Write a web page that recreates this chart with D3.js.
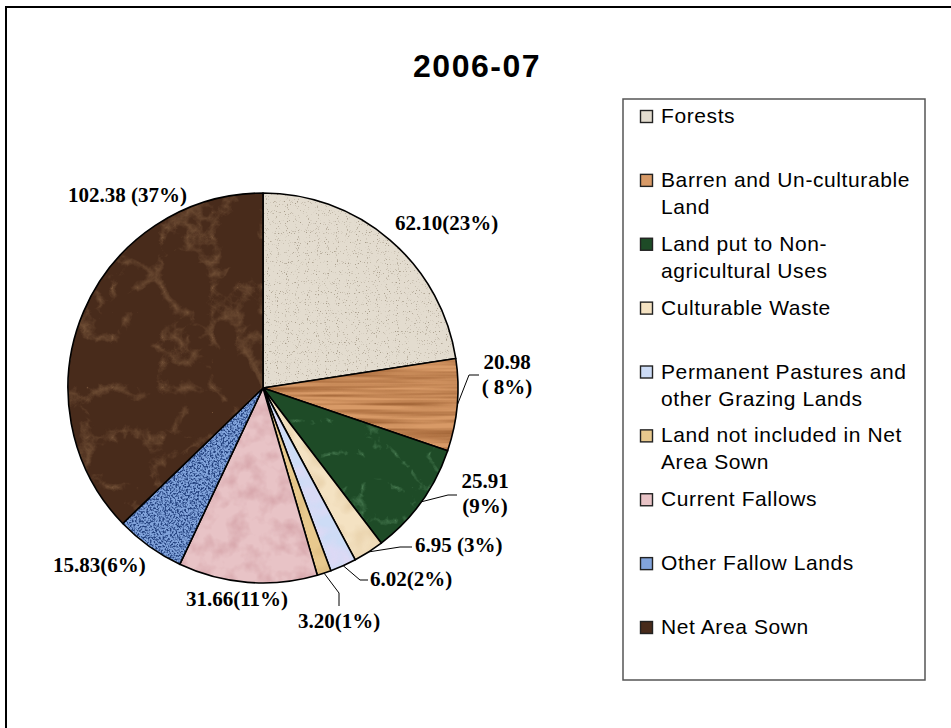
<!DOCTYPE html>
<html>
<head>
<meta charset="utf-8">
<script src="https://cdn.jsdelivr.net/npm/d3@7"></script>
<style>
  body { margin: 0; background: #fff; }
</style>
</head>
<body>
<script>
// data
const categories = ['Forests', 'Barren and Un-culturable Land', 'Land put to Non-agricultural Uses',
  'Culturable Waste', 'Permanent Pastures and other Grazing Lands', 'Land not included in Net Area Sown',
  'Current Fallows', 'Other Fallow Lands', 'Net Area Sown']
const values = [62.10, 20.98, 25.91, 6.95, 6.02, 3.20, 31.66, 15.83, 102.38]
const pctLabels = [23, 8, 9, 3, 2, 1, 11, 6, 37]
const title = '2006-07'

// look of each slice: base colour + a noise overlay
const baseColors = ['#e3dccf', '#d89a67', '#1e4b27', '#f4e2c2', '#cddcf6', '#e8c98e', '#e8c3c6', '#82a4dc', '#482b1b']
const textures = [
  { type: 'fractalNoise', freq: '0.9', oct: 1, color: '#a69b89', a: 7, b: -4.4 },
  { type: 'fractalNoise', freq: '0.008 0.22', oct: 2, color: '#a5683a', a: 2.4, b: -0.8 },
  { type: 'turbulence', freq: '0.03', oct: 4, color: '#5e9468', a: -3, b: 0.6 },
  { type: 'fractalNoise', freq: '0.05', oct: 2, color: '#e2c89e', a: 2, b: -0.8 },
  { type: 'fractalNoise', freq: '0.05', oct: 2, color: '#e4d8f4', a: 2, b: -0.7 },
  { type: 'fractalNoise', freq: '0.05', oct: 2, color: '#d6b47a', a: 2, b: -0.8 },
  { type: 'fractalNoise', freq: '0.06', oct: 3, color: '#d7a7ac', a: 2.2, b: -0.9 },
  { type: 'fractalNoise', freq: '0.55', oct: 2, color: '#24427f', a: 4, b: -1.7 },
  { type: 'turbulence', freq: '0.02', oct: 5, color: '#97714f', a: -2.4, b: 0.55 }
]

// label placement (text anchor point, lines, leader elbows)
const labelPos = [
  { x: 395, y: 230, anchor: 'start', sep: '', pad: '' },
  { x: 507, y: 369, anchor: 'middle', sep: '\n', pad: ' ', leader: [[469, 375], [479, 375]] },
  { x: 485, y: 488, anchor: 'middle', sep: '\n', pad: '', leader: [[448, 495], [457, 495]] },
  { x: 415, y: 552, anchor: 'start', sep: ' ', pad: '', leader: [[400, 547], [412, 547]] },
  { x: 370, y: 586, anchor: 'start', sep: '', pad: '', leader: [[360, 580], [368, 580]] },
  { x: 298, y: 628, anchor: 'start', sep: '', pad: '', leader: [[339, 593], [339, 606]] },
  { x: 186, y: 606, anchor: 'start', sep: '', pad: '' },
  { x: 53, y: 572, anchor: 'start', sep: '', pad: '' },
  { x: 68, y: 202, anchor: 'start', sep: ' ', pad: '' }
]

const width = 951, height = 728
const cx = 263, cy = 388, radius = 195

const svg = d3.select('body').append('svg')
  .attr('width', width)
  .attr('height', height)

// outer frame (only top / left show inside the picture)
svg.append('rect')
  .attr('x', 6).attr('y', 7)
  .attr('width', 1000).attr('height', 1000)
  .attr('fill', 'none')
  .attr('stroke', '#000')
  .attr('stroke-width', 2)

svg.append('text')
  .attr('x', 477).attr('y', 77)
  .attr('text-anchor', 'middle')
  .style('font-family', '"Liberation Sans", Arial, sans-serif')
  .style('font-weight', 'bold')
  .style('font-size', '32px')
  .style('letter-spacing', '1.5px')
  .text(title)

// noise filters
const defs = svg.append('defs')
textures.forEach((t, i) => {
  const c = d3.rgb(t.color)
  const f = defs.append('filter')
    .attr('id', 'tex' + i)
    .attr('x', 0).attr('y', 0).attr('width', 1).attr('height', 1)
    .attr('color-interpolation-filters', 'sRGB')
  f.append('feTurbulence')
    .attr('type', t.type)
    .attr('baseFrequency', t.freq)
    .attr('numOctaves', t.oct)
    .attr('seed', i + 3)
    .attr('result', 'noise')
  f.append('feColorMatrix')
    .attr('in', 'noise')
    .attr('type', 'matrix')
    .attr('values', `0 0 0 0 ${c.r / 255} 0 0 0 0 ${c.g / 255} 0 0 0 0 ${c.b / 255} ${t.a} 0 0 0 ${t.b}`)
    .attr('result', 'tint')
  f.append('feComposite')
    .attr('in', 'tint')
    .attr('in2', 'SourceGraphic')
    .attr('operator', 'in')
})

const pie = d3.pie().sort(null).value(d => d)
const arcs = pie(values)
const arc = d3.arc().innerRadius(0).outerRadius(radius)
const edge = d3.arc().innerRadius(radius).outerRadius(radius)

const chart = svg.append('g').attr('transform', `translate(${cx},${cy})`)

const slices = chart.selectAll('g.slice')
  .data(arcs)
  .enter()
  .append('g')
  .attr('class', 'slice')

slices.append('path')
  .attr('d', arc)
  .attr('fill', (d, i) => baseColors[i])

slices.append('path')
  .attr('d', arc)
  .attr('fill', '#000')
  .attr('filter', (d, i) => `url(#tex${i})`)

slices.append('path')
  .attr('d', arc)
  .attr('fill', 'none')
  .attr('stroke', '#000')
  .attr('stroke-width', 1.6)
  .attr('stroke-linejoin', 'round')

// leader lines
const line = d3.line()
arcs.forEach((d, i) => {
  const p = labelPos[i]
  if (!p.leader) return
  const s = edge.centroid(d)
  const pts = [[s[0] + cx, s[1] + cy]].concat(p.leader)
  svg.append('path')
    .attr('d', line(pts))
    .attr('fill', 'none')
    .attr('stroke', '#000')
    .attr('stroke-width', 1)
})

// value labels
const labels = svg.selectAll('text.val')
  .data(arcs)
  .enter()
  .append('text')
  .attr('class', 'val')
  .attr('text-anchor', (d, i) => labelPos[i].anchor)
  .style('font-family', '"Liberation Serif", "Times New Roman", serif')
  .style('font-weight', 'bold')
  .style('font-size', '21px')

labels.each(function (d, i) {
  const p = labelPos[i]
  const txt = d.data.toFixed(2) + p.sep + '(' + p.pad + pctLabels[i] + '%)'
  d3.select(this).selectAll('tspan')
    .data(txt.split('\n'))
    .enter()
    .append('tspan')
    .attr('x', p.x)
    .attr('y', (s, k) => p.y + k * 25)
    .text(s => s)
})

// legend
const legendBox = { x: 623, y: 99, w: 302, h: 581 }
svg.append('rect')
  .attr('x', legendBox.x).attr('y', legendBox.y)
  .attr('width', legendBox.w).attr('height', legendBox.h)
  .attr('fill', '#fff')
  .attr('stroke', '#555')
  .attr('stroke-width', 1.5)

const yLegend = d3.scalePoint().domain(categories).range([123, 634])

const items = svg.selectAll('g.legend')
  .data(categories)
  .enter()
  .append('g')
  .attr('class', 'legend')
  .attr('transform', d => `translate(0,${yLegend(d)})`)

items.append('rect')
  .attr('x', 640.5).attr('y', -12.5)
  .attr('width', 12).attr('height', 12)
  .attr('fill', (d, i) => baseColors[i])
  .attr('stroke', '#222')
  .attr('stroke-width', 1.4)

const maxW = 258
items.append('text')
  .style('font-family', '"Liberation Sans", Arial, sans-serif')
  .style('font-size', '21px')
  .style('letter-spacing', '0.6px')
  .each(function (d) {
    const t = d3.select(this)
    // break after spaces and hyphens
    const pieces = d.match(/[^\s-]+-?\s*|\s+/g)
    let lineNo = 0
    let cur = ''
    let span = t.append('tspan').attr('x', 661).attr('y', 0)
    pieces.forEach(w => {
      const test = cur + w
      span.text(test.trimEnd())
      if (span.node().getComputedTextLength() > maxW && cur) {
        span.text(cur.trimEnd())
        lineNo++
        cur = w
        span = t.append('tspan').attr('x', 661).attr('y', lineNo * 27).text(w.trimEnd())
      } else {
        cur = test
      }
    })
  })
</script>
</body>
</html>
